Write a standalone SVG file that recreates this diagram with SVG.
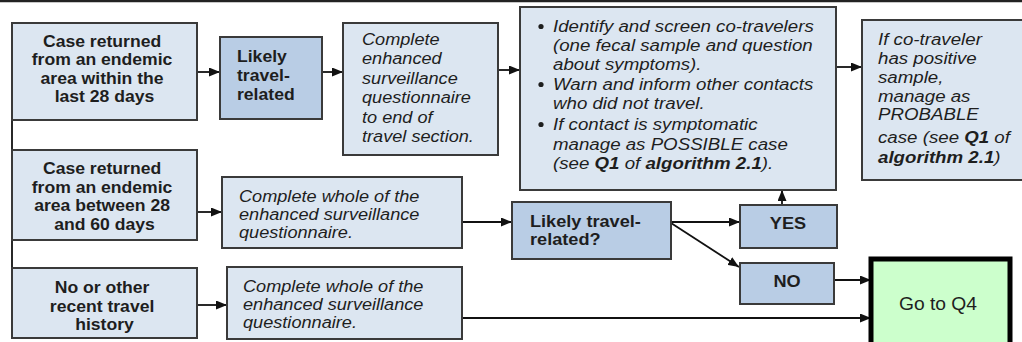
<svg xmlns="http://www.w3.org/2000/svg" width="1022" height="342" viewBox="0 0 1022 342">
<defs>
<style>
.b{fill:#dce6f1;stroke:#3a3a3a;stroke-width:2}
.d{fill:#b9cde5;stroke:#3a3a3a;stroke-width:2}
.g{fill:#ccffcc;stroke:#000;stroke-width:5}
text{font-family:"Liberation Sans",Arial,sans-serif;fill:#1e1e1e}
.bt{font-weight:bold;font-size:16px}
.it{font-style:italic;font-size:16.5px}
.it17{font-style:italic;font-size:17px}
.bb{font-weight:bold}
.c{stroke:#111;stroke-width:1.8;fill:none}
.a{marker-end:url(#ah)}
</style>
<marker id="ah" markerWidth="11" markerHeight="9" refX="11" refY="4.5" orient="auto" markerUnits="userSpaceOnUse">
<path d="M0,0 L11,4.5 L0,9 z" fill="#111"/>
</marker>
</defs>
<rect width="1022" height="342" fill="#fff"/>
<line x1="0" y1="1" x2="1022" y2="1" stroke="#222" stroke-width="2.5"/>

<g id="connectors">
<line class="c" x1="12" y1="120" x2="12" y2="268"/>
<line class="c a" x1="197" y1="72" x2="220" y2="72"/>
<line class="c a" x1="322" y1="72" x2="343" y2="72"/>
<line class="c a" x1="498" y1="70" x2="520" y2="70"/>
<line class="c a" x1="836" y1="67" x2="862" y2="67"/>
<line class="c a" x1="197" y1="212" x2="222" y2="212"/>
<line class="c a" x1="462" y1="222" x2="512" y2="222"/>
<line class="c a" x1="671" y1="222" x2="740" y2="222"/>
<line class="c a" x1="671" y1="223" x2="739" y2="267"/>
<line class="c a" x1="782" y1="205" x2="782" y2="190"/>
<line class="c a" x1="834" y1="280" x2="871" y2="280"/>
<line class="c a" x1="197" y1="305" x2="227" y2="305"/>
<line class="c a" x1="462" y1="318" x2="871" y2="318"/>
</g>

<g id="case28">
<rect class="b" x="12" y="23" width="185" height="97"/>
<text class="bt" text-anchor="middle" transform="matrix(1.1 0 0 1 104.5 0)">
<tspan x="0" y="47">Case returned</tspan>
<tspan x="0" y="65.5">from an endemic</tspan>
<tspan x="0" y="84">area within the</tspan>
<tspan x="0" y="102">last 28 days</tspan>
</text>
</g>

<g id="likely1">
<rect class="d" x="220" y="37" width="102" height="82"/>
<text class="bt" transform="matrix(1.1 0 0 1 237 0)">
<tspan x="0" y="62">Likely</tspan>
<tspan x="0" y="81">travel-</tspan>
<tspan x="0" y="100">related</tspan>
</text>
</g>

<g id="complete1">
<rect class="b" x="343" y="23" width="155" height="132"/>
<text class="it" transform="matrix(1.1 0 0 1 362 0)">
<tspan x="0" y="45">Complete</tspan>
<tspan x="0" y="64.5">enhanced</tspan>
<tspan x="0" y="84">surveillance</tspan>
<tspan x="0" y="103.5">questionnaire</tspan>
<tspan x="0" y="123">to end of</tspan>
<tspan x="0" y="142.5">travel section.</tspan>
</text>
</g>

<g id="actions">
<rect class="b" x="520" y="7" width="316" height="183"/>
<circle cx="541" cy="26.5" r="2.6" fill="#1e1e1e"/>
<circle cx="541" cy="84.5" r="2.6" fill="#1e1e1e"/>
<circle cx="541" cy="124.5" r="2.6" fill="#1e1e1e"/>
<text class="it17" transform="matrix(1.1 0 0 1 553 0)">
<tspan x="0" y="32">Identify and screen co-travelers</tspan>
<tspan x="0" y="51">(one fecal sample and question</tspan>
<tspan x="0" y="70">about symptoms).</tspan>
<tspan x="0" y="90">Warn and inform other contacts</tspan>
<tspan x="0" y="109">who did not travel.</tspan>
<tspan x="0" y="130">If contact is symptomatic</tspan>
<tspan x="0" y="150">manage as POSSIBLE case</tspan>
<tspan x="0" y="169">(see <tspan class="bb">Q1</tspan> of <tspan class="bb">algorithm 2.1</tspan>).</tspan>
</text>
</g>

<g id="cotraveler">
<rect class="b" x="862" y="20" width="170" height="160"/>
<text class="it17" transform="matrix(1.1 0 0 1 878 0)">
<tspan x="0" y="45">If co-traveler</tspan>
<tspan x="0" y="64">has positive</tspan>
<tspan x="0" y="83">sample,</tspan>
<tspan x="0" y="102">manage as</tspan>
<tspan x="0" y="120">PROBABLE</tspan>
<tspan x="0" y="143">case (see <tspan class="bb">Q1</tspan> of</tspan>
<tspan x="0" y="163"><tspan class="bb">algorithm 2.1</tspan>)</tspan>
</text>
</g>

<g id="case60">
<rect class="b" x="12" y="150" width="185" height="90"/>
<text class="bt" text-anchor="middle" transform="matrix(1.1 0 0 1 104.5 0)">
<tspan x="0" y="174.5">Case returned</tspan>
<tspan x="0" y="193">from an endemic</tspan>
<tspan x="0" y="211.5">area between 28</tspan>
<tspan x="0" y="230">and 60 days</tspan>
</text>
</g>

<g id="complete2">
<rect class="b" x="222" y="177" width="240" height="71"/>
<text class="it" transform="matrix(1.1 0 0 1 239 0)">
<tspan x="0" y="202">Complete whole of the</tspan>
<tspan x="0" y="220">enhanced surveillance</tspan>
<tspan x="0" y="238">questionnaire.</tspan>
</text>
</g>

<g id="likely2">
<rect class="d" x="512" y="202" width="159" height="57"/>
<text class="bt" transform="matrix(1.1 0 0 1 530 0)" style="font-size:16.5px">
<tspan x="0" y="227">Likely travel-</tspan>
<tspan x="0" y="245">related?</tspan>
</text>
</g>

<g id="yes">
<rect class="d" x="740" y="205" width="97" height="43"/>
<text class="bt" text-anchor="middle" transform="matrix(1.1 0 0 1 788 0)" style="font-size:16.5px"><tspan x="0" y="229">YES</tspan></text>
</g>

<g id="no">
<rect class="d" x="740" y="263" width="94" height="41"/>
<text class="bt" text-anchor="middle" transform="matrix(1.1 0 0 1 787 0)" style="font-size:16.5px"><tspan x="0" y="287">NO</tspan></text>
</g>

<g id="norecent">
<rect class="b" x="12" y="268" width="185" height="70"/>
<text class="bt" text-anchor="middle" transform="matrix(1.1 0 0 1 104.5 0)">
<tspan x="0" y="293">No or other</tspan>
<tspan x="0" y="312">recent travel</tspan>
<tspan x="0" y="330">history</tspan>
</text>
</g>

<g id="complete3">
<rect class="b" x="227" y="267" width="235" height="72"/>
<text class="it" transform="matrix(1.1 0 0 1 243 0)">
<tspan x="0" y="292">Complete whole of the</tspan>
<tspan x="0" y="310">enhanced surveillance</tspan>
<tspan x="0" y="328">questionnaire.</tspan>
</text>
</g>

<g id="goq4">
<rect class="g" x="871" y="259" width="139" height="95"/>
<text text-anchor="middle" transform="matrix(1.1 0 0 1 938 0)" style="font-size:17.5px"><tspan x="0" y="310">Go to Q4</tspan></text>
</g>
</svg>
